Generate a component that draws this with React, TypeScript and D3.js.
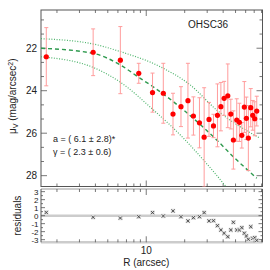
import React from 'react';
import * as d3 from 'd3';

// radial surface-brightness profile (R in arcsec, mu in mag/arcsec^2)
const radius = [1.65, 3.84, 6.27, 8.74, 11.2, 13.6, 16.2, 18.7, 21.2, 23.4, 26.1, 28.4, 31.0, 33.6, 36.1, 38.4, 40.7, 43.5, 45.9, 48.1, 51.1, 53.6, 56.0, 58.6, 60.8, 63.0, 65.8, 68.2, 70.7, 73.3];
const mu = [22.40, 22.19, 22.56, 23.18, 24.09, 24.12, 25.10, 24.75, 24.47, 25.19, 25.51, 26.19, 25.35, 25.66, 25.16, 24.75, 24.36, 24.24, 25.10, 26.32, 25.38, 25.49, 26.10, 24.77, 25.30, 26.23, 24.80, 25.16, 25.32, 24.96];
const muErr = [1.37, 1.1, 1.58, 0.47, 0.92, 1.41, 0.98, 0.94, 1.76, 0.9, 1.18, 2.33, 0.8, 0.55, 1.48, 1.14, 0.8, 1.5, 0.7, 1.37, 1.0, 0.9, 0.6, 1.2, 1.0, 1.53, 0.9, 0.7, 0.8, 0.7];
const residuals = [0.4, -0.2, -0.3, -0.13, 0.38, -0.04, 0.59, -0.13, -0.66, -0.25, -0.13, 0.38, -0.66, -0.63, -1.25, -1.79, -2.2, -2.63, -1.79, -0.83, -1.79, -1.79, -1.5, -2.2, -2.54, -2.95, -1.38, -2.83, -2.75, -3.1];

// fitted model and its envelope
const fitR = [1.5, 3.83, 6.27, 8.98, 11.1, 19.6, 35.6, 48.1, 73.3];
const fitMu = [22.0, 22.24, 22.79, 23.42, 23.78, 24.91, 26.32, 27.11, 28.12];
const upperR = [1.5, 3.83, 6.27, 12.86, 22.1, 35.6, 78];
const upperMu = [21.55, 21.8, 22.16, 22.87, 23.73, 24.91, 26.24];
const lowerR = [1.5, 3.83, 6.27, 11.4, 19.6, 28.0, 40.1, 44.4];
const lowerMu = [22.4, 22.9, 23.6, 24.91, 26.24, 27.26, 28.36, 28.7];

const muTicks = [22, 24, 26, 28];
const resTicks = [3, 2, 1, 0, -1, -2, -3];

const left = 41, right = 262.5;
const mainTop = 10, mainBottom = 186.5;
const resTop = 189, resBottom = 242.3;
const axisColor = '#555';
const font = 'Liberation Sans, Arial, sans-serif';

export default function App() {
  const x = d3.scaleLog().domain([1.5, 81.3]).range([left, right]);
  const y = d3.scaleLinear().domain([20.2, 28.51]).range([mainTop, mainBottom]);
  const yr = d3.scaleLinear().domain([-3.33, 3.33]).range([resBottom, resTop]);

  const line = (xs: number[], ys: number[]) =>
    d3.line<number>()
      .x((d, i) => x(xs[i]))
      .y((d, i) => y(ys[i]))
      .curve(d3.curveMonotoneX)(ys) || '';

  const xMinor = [2, 3, 4, 5, 6, 7, 8, 9, 20, 30, 40, 50, 60, 70, 80];
  const yMinor = d3.range(20.6667, 28.5, 2 / 3).filter(v => Math.abs(((v - 20) % 2)) > 0.1 && Math.abs(((v - 20) % 2) - 2) > 0.1);
  const rMinor = d3.range(-3, 3.01, 0.5);

  const xTicks = (yy: number, dir: number) => (
    <g stroke={axisColor} strokeWidth={0.8}>
      {xMinor.map(v => <line key={v} x1={x(v)} x2={x(v)} y1={yy} y2={yy + dir * 3} />)}
      <line x1={x(10)} x2={x(10)} y1={yy} y2={yy + dir * 6} />
    </g>
  );

  return (
    <svg width={270} height={270} style={{ position: 'absolute', left: 0, top: 0, background: '#fff' }} fontFamily={font}>
      <defs>
        <clipPath id="main-clip">
          <rect x={left} y={mainTop} width={right - left} height={mainBottom - mainTop} />
        </clipPath>
      </defs>

      {/* main panel frame */}
      <rect x={left} y={mainTop} width={right - left} height={mainBottom - mainTop} fill="none" stroke={axisColor} strokeWidth={1} />
      {xTicks(mainTop, 1)}
      {xTicks(mainBottom, -1)}
      <g stroke={axisColor} strokeWidth={0.8}>
        {muTicks.map(v => (
          <g key={v}>
            <line x1={left} x2={left + 6} y1={y(v)} y2={y(v)} />
            <line x1={right} x2={right - 6} y1={y(v)} y2={y(v)} />
          </g>
        ))}
        {yMinor.map(v => (
          <g key={v}>
            <line x1={left} x2={left + 3} y1={y(v)} y2={y(v)} />
            <line x1={right} x2={right - 3} y1={y(v)} y2={y(v)} />
          </g>
        ))}
      </g>
      {muTicks.map(v => (
        <text key={v} x={37} y={y(v) + 3.5} fontSize={10} textAnchor="end" fill="#222">{v}</text>
      ))}

      <g clipPath="url(#main-clip)">
        <path d={line(upperR, upperMu)} fill="none" stroke="#4cb36a" strokeWidth={1.2} strokeDasharray="1 1.6" />
        <path d={line(lowerR, lowerMu)} fill="none" stroke="#4cb36a" strokeWidth={1.2} strokeDasharray="1 1.6" />
        <path d={line(fitR, fitMu)} fill="none" stroke="#2f9a4f" strokeWidth={1.4} strokeDasharray="4 3" />

        {radius.map((r, i) => {
          const cx = x(r);
          const y1 = y(mu[i] - muErr[i]);
          const y2 = y(mu[i] + muErr[i]);
          return (
            <g key={i} stroke="#ff9c9c" strokeWidth={1}>
              <line x1={cx} x2={cx} y1={y1} y2={y2} />
              <line x1={cx - 2} x2={cx + 2} y1={y1} y2={y1} />
              <line x1={cx - 2} x2={cx + 2} y1={y2} y2={y2} />
            </g>
          );
        })}
        {radius.map((r, i) => (
          <circle key={i} cx={x(r)} cy={y(mu[i])} r={2.6} fill="#ff0000" />
        ))}
      </g>

      <text x={188} y={28} fontSize={10} fill="#222">OHSC36</text>
      <text x={53} y={142} fontSize={9} fill="#222">a = ( 6.1 ± 2.8)*</text>
      <text x={53} y={155} fontSize={9} fill="#222">γ = ( 2.3 ± 0.6)</text>

      <text transform={`translate(16,${(mainTop + mainBottom) / 2 - 2}) rotate(-90)`} fontSize={10} textAnchor="middle" fill="#222">
        μ<tspan fontSize={7} dy={2}>V</tspan><tspan dy={-2}> (mag/arcsec</tspan><tspan fontSize={7} dy={-3}>2</tspan><tspan dy={3}>)</tspan>
      </text>

      {/* residual panel */}
      <line x1={left} x2={right} y1={resTop} y2={resTop} stroke="#ccc" strokeWidth={2} />
      <line x1={left} x2={right} y1={resBottom} y2={resBottom} stroke="#ccc" strokeWidth={2.5} />
      <line x1={left} x2={right} y1={yr(0)} y2={yr(0)} stroke="#ccc" strokeWidth={2.5} />
      <line x1={left} x2={left} y1={resTop} y2={resBottom} stroke={axisColor} strokeWidth={1} />
      <line x1={right} x2={right} y1={resTop} y2={resBottom} stroke={axisColor} strokeWidth={1} />
      <g stroke={axisColor} strokeWidth={0.8}>
        {rMinor.map(v => (
          <g key={v}>
            <line x1={left} x2={left + (Number.isInteger(v) ? 4 : 2)} y1={yr(v)} y2={yr(v)} />
            <line x1={right} x2={right - (Number.isInteger(v) ? 4 : 2)} y1={yr(v)} y2={yr(v)} />
          </g>
        ))}
      </g>
      {xTicks(resTop, 1)}
      {xTicks(resBottom, -1)}
      {resTicks.map(v => (
        <text key={v} x={38.5} y={yr(v) + 2.9} fontSize={8} textAnchor="end" fill="#222">{v}</text>
      ))}
      {radius.map((r, i) => {
        const cx = x(r);
        const cy = yr(residuals[i]);
        return (
          <g key={i}>
            <rect x={cx - 2.2} y={cy - 2.2} width={4.4} height={4.4} fill="#ddd" />
            <path d={`M${cx - 1.6},${cy - 1.6}L${cx + 1.6},${cy + 1.6}M${cx - 1.6},${cy + 1.6}L${cx + 1.6},${cy - 1.6}`} stroke="#333" strokeWidth={0.8} />
          </g>
        );
      })}

      <text transform={`translate(21,${(resTop + resBottom) / 2}) rotate(-90)`} fontSize={10} textAnchor="middle" fill="#222">residuals</text>
      <text x={x(10)} y={254} fontSize={10} textAnchor="middle" fill="#222">10</text>
      <text x={x(10)} y={266} fontSize={10} textAnchor="middle" fill="#222">R (arcsec)</text>
    </svg>
  );
}
